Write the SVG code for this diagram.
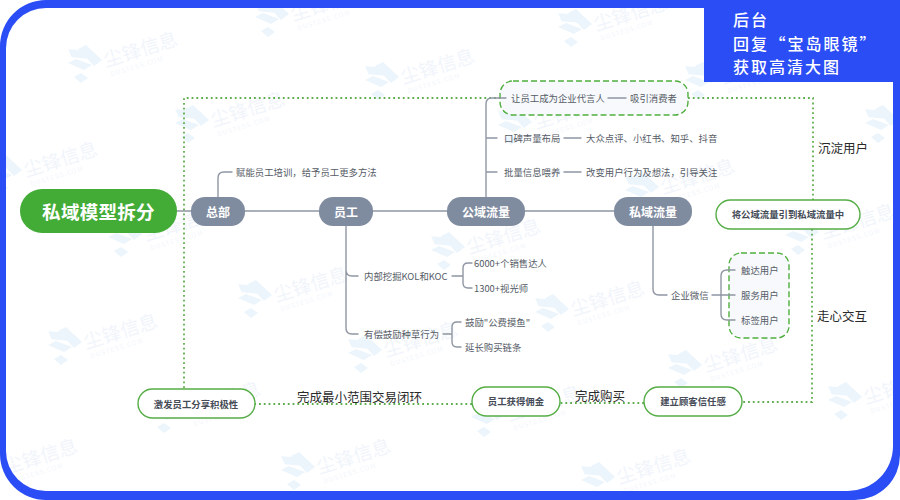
<svg xmlns="http://www.w3.org/2000/svg" xmlns:xlink="http://www.w3.org/1999/xlink" width="900" height="500" viewBox="0 0 900 500">
<style>
text{font-family:"Noto Sans CJK SC","Noto Sans",sans-serif;dominant-baseline:central}
.leaf{font-size:9.4px;fill:#555b66}
.sec{font-size:12px;font-weight:700;fill:#fff;text-anchor:middle}
.gr{fill:#7f8b9f}
.ln{fill:none;stroke:#8f96a3;stroke-width:1.4;stroke-linecap:round}
.dot{fill:none;stroke:#5fae4e;stroke-width:1.8;stroke-dasharray:1.8 3}
.dash{fill:#f7f9fc;stroke:#4fae3e;stroke-width:1.4;stroke-dasharray:6 3}
.pill{fill:#fff;stroke:#55ad45;stroke-width:1.4}
.pt{font-size:9.4px;font-weight:700;fill:#454b57;text-anchor:middle}
.lab{font-size:12.500px;fill:#2a2a2a}
.wt{font-size:19px;fill:#f1f5fb}
.ws{font-size:6.500px;fill:#f3f6fb;letter-spacing:1px}
.hd{font-size:16px;font-weight:500;fill:#fff;letter-spacing:2px}
</style>
<defs>
<g id="wm">
<g fill="#ecf5fc">
<path d="M-18 -3 L-4 -13 L4 -9 L-10 1Z" transform="rotate(40)"/>
<path d="M-2 -14 L6 -18 L22 -3 L14 3Z"/>
<path d="M-12 0 L-4 -4 L12 2 L4 7Z"/>
<path d="M-6 14 L1 10 L8 15 L1 20Z"/>
</g>
<g transform="rotate(-17)">
<text class="wt" x="24" y="3">尘锋信息</text>
<text class="ws" x="26" y="19">DUSTESS.COM</text>
</g>
</g>
</defs>
<rect width="900" height="500" fill="#fff"/>
<g id="watermarks">
<use href="#wm" x="80" y="63"/><use href="#wm" x="267" y="17"/><use href="#wm" x="187" y="123"/><use href="#wm" x="377" y="80"/><use href="#wm" x="570" y="27"/><use href="#wm" x="0" y="173"/><use href="#wm" x="120" y="237"/><use href="#wm" x="510" y="125"/><use href="#wm" x="697" y="80"/><use href="#wm" x="637" y="190"/><use href="#wm" x="877" y="123"/><use href="#wm" x="797" y="235"/><use href="#wm" x="443" y="250"/><use href="#wm" x="250" y="298"/><use href="#wm" x="60" y="345"/><use href="#wm" x="547" y="312"/><use href="#wm" x="360" y="353"/><use href="#wm" x="680" y="368"/><use href="#wm" x="840" y="400"/><use href="#wm" x="163" y="413"/><use href="#wm" x="293" y="470"/><use href="#wm" x="483" y="417"/><use href="#wm" x="593" y="480"/><use href="#wm" x="-20" y="470"/>
</g>
<path id="frame" fill-rule="evenodd" fill="#2b4df5" d="M46 0H900V455A45 45 0 0 1 855 500H46A46 46 0 0 1 0 454V46A46 46 0 0 1 46 0ZM46 8A40 40 0 0 0 6 48V451A40 40 0 0 0 46 491H848A45 45 0 0 0 893 446V82H704V8Z"/>
<g id="box-top"><rect class="dash" x="500" y="81" width="188" height="34" rx="13"/></g>
<g id="box-right"><rect class="dash" x="729" y="253" width="60" height="85" rx="12"/></g>
<g id="connectors">
<path class="dot" d="M184 388V98H500M688 98H813V200M812 229V402H742M644 403H560M472 404H255"/>
<path class="ln" d="M177 211H614"/>
<path class="ln" d="M218 197V178Q218 172 224 172H232"/>
<path class="ln" d="M486 197V104Q486 98 492 98H506M486 138H497M486 172H497"/>
<path class="ln" d="M608 98H626M564 138H581M564 172H581"/>
<path class="ln" d="M346 226V270Q346 276 352 276H358M346 270V328Q346 334 352 334H358"/>
<path class="ln" d="M452 276H463M472 263H468Q463 263 463 268V283Q463 288 468 288H472"/>
<path class="ln" d="M443 334H452M461 322H457Q452 322 452 327V342Q452 347 457 347H461"/>
<path class="ln" d="M653 226V289Q653 295 659 295H667"/>
<path class="ln" d="M712 295H735M735 270H727Q721 270 721 276V314Q721 320 727 320H735"/>
</g>
<g id="root"><rect x="20" y="189" width="157" height="44" rx="22" fill="#43ac37"/><text x="98.500" y="211" font-size="18.500" font-weight="700" fill="#fff" text-anchor="middle" letter-spacing=".3">私域模型拆分</text></g>
<g id="zongbu"><rect class="gr" x="191" y="197" width="54" height="29" rx="14"/><text class="sec" x="218" y="211">总部</text></g>
<g id="yuangong"><rect class="gr" x="319" y="197" width="54" height="29" rx="14"/><text class="sec" x="346" y="211">员工</text></g>
<g id="gongyu"><rect class="gr" x="447" y="197" width="78" height="29" rx="14"/><text class="sec" x="486" y="211">公域流量</text></g>
<g id="siyu"><rect class="gr" x="614" y="197" width="78" height="29" rx="14"/><text class="sec" x="653" y="211">私域流量</text></g>
<g id="leaves">
<text class="leaf" x="236" y="172">赋能员工培训，给予员工更多方法</text>
<text class="leaf" x="511" y="98">让员工成为企业代言人</text>
<text class="leaf" x="630" y="98">吸引消费者</text>
<text class="leaf" x="504" y="138">口碑声量布局</text>
<text class="leaf" x="586" y="138">大众点评、小红书、知乎、抖音</text>
<text class="leaf" x="504" y="172">批量信息喂养</text>
<text class="leaf" x="586" y="172">改变用户行为及想法，引导关注</text>
<text class="leaf" x="364" y="276">内部挖掘KOL和KOC</text>
<text class="leaf" x="474" y="263">6000+个销售达人</text>
<text class="leaf" x="474" y="288">1300+视光师</text>
<text class="leaf" x="364" y="334">有偿鼓励种草行为</text>
<text class="leaf" x="465" y="322">鼓励"公费摸鱼"</text>
<text class="leaf" x="465" y="347">延长购买链条</text>
<text class="leaf" x="671" y="295">企业微信</text>
<text class="leaf" x="741" y="270">触达用户</text>
<text class="leaf" x="741" y="295">服务用户</text>
<text class="leaf" x="741" y="320">标签用户</text>
</g>
<g id="pill-yindao"><rect class="pill" x="716" y="200" width="144" height="29" rx="14.500"/><text class="pt" x="788" y="214">将公域流量引到私域流量中</text></g>
<g id="pill-xinren"><rect class="pill" x="644" y="387" width="98" height="29" rx="14.500"/><text class="pt" x="693" y="401">建立顾客信任感</text></g>
<g id="pill-yongjin"><rect class="pill" x="472" y="387" width="88" height="29" rx="14.500"/><text class="pt" x="516" y="401">员工获得佣金</text></g>
<g id="pill-jifa"><rect class="pill" x="138" y="389" width="117" height="29" rx="14.500"/><text class="pt" x="196" y="404">激发员工分享积极性</text></g>
<g id="labels">
<text class="lab" x="818" y="147">沉淀用户</text>
<text class="lab" x="817" y="315">走心交互</text>
<text class="lab" x="297" y="396">完成最小范围交易闭环</text>
<text class="lab" x="575" y="395">完成购买</text>
</g>
<g id="header">
<text class="hd" x="733" y="19">后台</text>
<text class="hd" x="733" y="43" word-spacing="-5">回复 “宝岛眼镜”</text>
<text class="hd" x="733" y="66">获取高清大图</text>
</g>
</svg>
